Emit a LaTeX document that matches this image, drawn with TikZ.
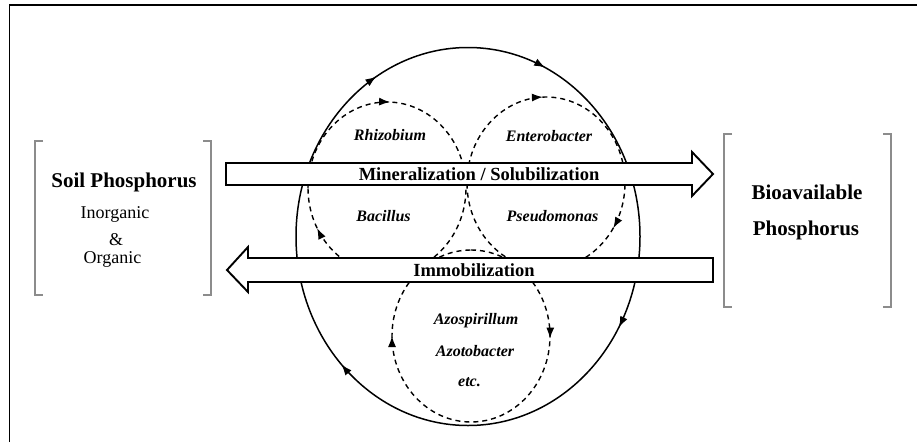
\documentclass[tikz,border=0pt]{standalone}
\usepackage{fontspec}
\setmainfont{Liberation Serif}
\usetikzlibrary{arrows.meta, decorations.markings}

\tikzset{
  bigloop/.style={line width=1.5pt},
  smallloop/.style={line width=1.4pt, dash pattern=on 5pt off 4pt},
  flowarrow/.style={draw, line width=1.9pt, fill=white, line join=miter},
  bracketline/.style={draw=black!45, line width=1.4pt},
  flowtip/.style={postaction={decorate, decoration={markings,
      mark=at position #1 with {\arrow{Latex[length=11pt,width=8pt]}}}}},
  pooltitle/.style={font=\fontsize{21}{24}\selectfont\bfseries, anchor=base},
  poolsub/.style={font=\fontsize{18}{20}\selectfont, anchor=base},
  flowlabel/.style={font=\fontsize{18.5}{20}\selectfont\bfseries, anchor=base},
  microbe/.style={font=\fontsize{16}{18}\selectfont\bfseries\itshape, anchor=base}
}

\begin{document}
\begin{tikzpicture}[x=1pt, y=-1pt]
\useasboundingbox (0,0) rectangle (917,442);

%Frame
\draw[line width=1.5pt] (9.5,442) -- (9.5,5) -- (917,5);

%Brackets
\draw[bracketline] (43,141) -- (35,141) -- (35,295) -- (43,295);
\draw[bracketline] (203,141) -- (211,141) -- (211,295) -- (203,295);
\draw[bracketline] (732,134) -- (724,134) -- (724,307) -- (732,307);
\draw[bracketline] (883,134) -- (891,134) -- (891,307) -- (883,307);

%Soil Phosphorus
\node[pooltitle] (soil) at (124,187) {Soil Phosphorus};
\node[poolsub] (inorg) at (115,218) {Inorganic};
\node[poolsub] (amp) at (116,245) {\&};
\node[poolsub] (org) at (112.5,263) {Organic};

%Bioavailable Phosphorus
\node[pooltitle] (bioav) at (807,199) {Bioavailable};
\node[pooltitle] (biophos) at (806,235) {Phosphorus};

%Outer cycle
\draw[bigloop, flowtip=0.164, flowtip=0.321, flowtip=0.583, flowtip=0.878]
  (296,236.5) arc[start angle=-180, end angle=180, x radius=172, y radius=189];

%%Microbial cycles
\draw[smallloop, flowtip=0.256, flowtip=0.920]
  (308,188) arc[start angle=-180, end angle=180, x radius=79, y radius=86];
\draw[smallloop, flowtip=0.244, flowtip=0.591]
  (467,183) arc[start angle=-180, end angle=180, x radius=79, y radius=86];
\draw[smallloop, flowtip=0.255, flowtip=0.75]
  (471,250) arc[start angle=-90, end angle=270, x radius=79, y radius=86];

%Flows
\path[flowarrow] (226,163) -- (692,163) -- (692,152) -- (713,174) --
  (692,196) -- (692,185) -- (226,185) -- cycle;
\path[flowarrow] (713,258) -- (248,258) -- (248,247) -- (227,270) --
  (248,292) -- (248,282) -- (713,282) -- cycle;
\node[flowlabel] (miner) at (479,180) {Mineralization / Solubilization};
\node[flowlabel] (immob) at (474,276.5) {Immobilization};

%Microbes
\node[microbe] (rhiz) at (390,140.5) {Rhizobium};
\node[microbe] (entero) at (549,141.5) {Enterobacter};
\node[microbe] (bacil) at (383.5,221.5) {Bacillus};
\node[microbe] (pseudo) at (552.5,221) {Pseudomonas};
\node[microbe] (azosp) at (476,324) {Azospirillum};
\node[microbe] (azoto) at (475,356) {Azotobacter};
\node[microbe] (etc) at (469.5,386.5) {etc.};
\end{tikzpicture}
\end{document}
